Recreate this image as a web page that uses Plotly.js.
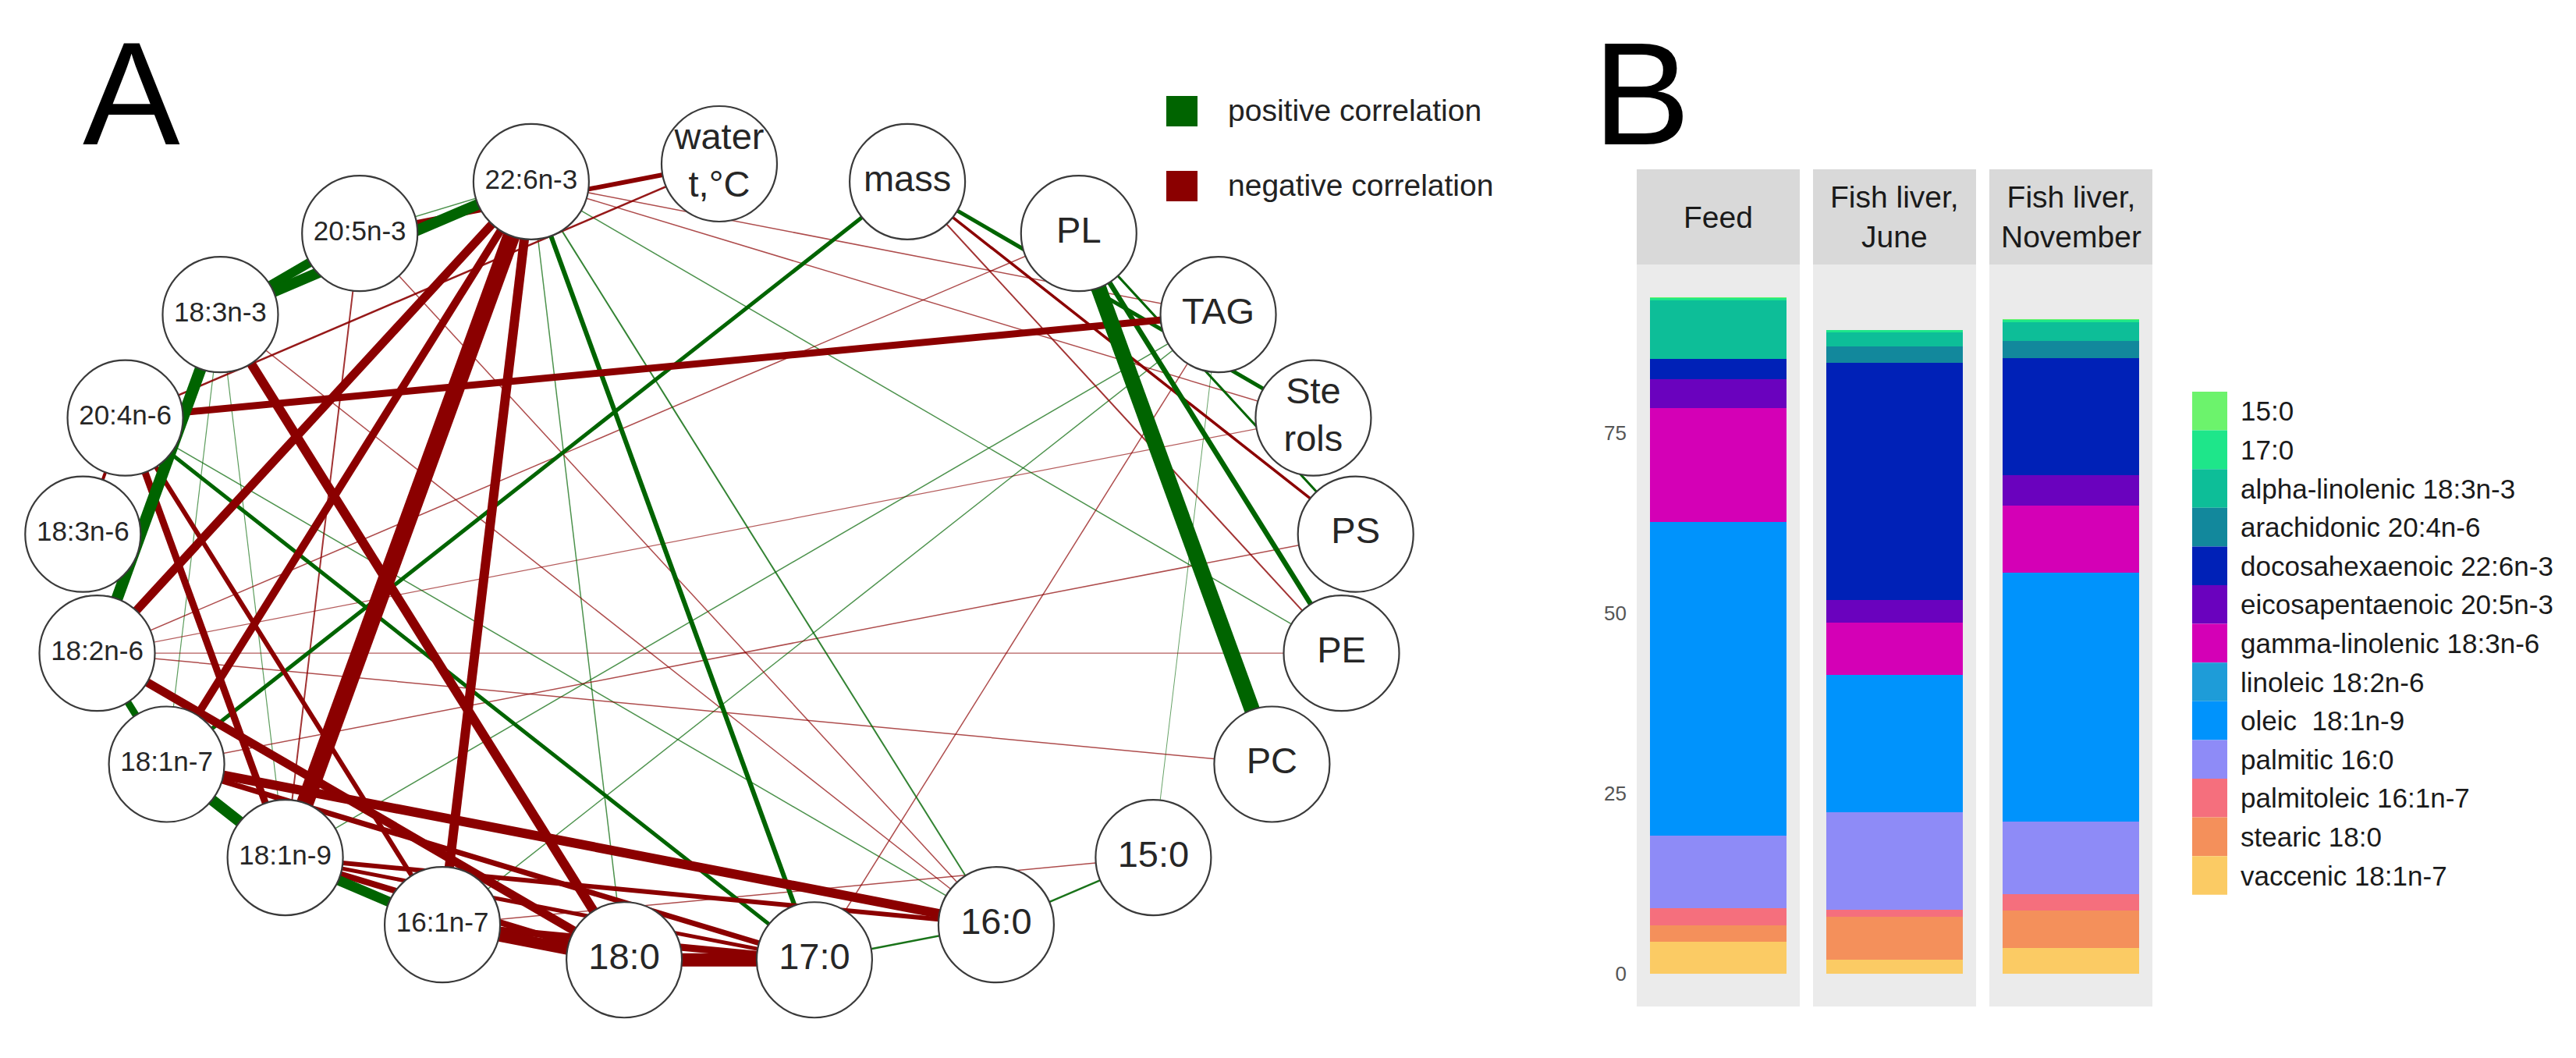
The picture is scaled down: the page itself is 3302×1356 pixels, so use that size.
<!DOCTYPE html>
<html>
<head>
<meta charset="utf-8">
<script src="https://cdn.plot.ly/plotly-3.0.1.min.js"></script>
<style>html,body{margin:0;padding:0;background:#fff;}#chart{width:3302px;height:1356px;}</style>
</head>
<body>
<div id="chart"></div>
<script>
// ---------------- DATA ----------------
// Panel A: correlation network
const nodeIds = ['water','mass','PL','TAG','Sterols','PS','PE','PC','15:0','16:0','17:0','18:0',
  '16:1n-7','18:1n-9','18:1n-7','18:2n-6','18:3n-6','20:4n-6','18:3n-3','20:5n-3','22:6n-3'];
const nodeLabels = ['water<br>t,°C','mass','PL','TAG','Ste<br>rols','PS','PE','PC','15:0','16:0','17:0','18:0',
  '16:1n-7','18:1n-9','18:1n-7','18:2n-6','18:3n-6','20:4n-6','18:3n-3','20:5n-3','22:6n-3'];

// edges: from, to, signed strength (positive = positive correlation)
const edgeFrom = ['PL','PL','mass','PL','22:6n-3','20:5n-3','18:3n-3','18:2n-6','18:1n-7','18:1n-9',
  'mass','20:4n-6','22:6n-3','16:0','15:0','22:6n-3','22:6n-3','22:6n-3','18:1n-9','16:1n-7',
  '15:0','20:5n-3','18:3n-3','18:3n-3','20:4n-6',
  '22:6n-3','22:6n-3','22:6n-3','22:6n-3','18:3n-3','18:2n-6','18:1n-7','18:1n-7','18:1n-9','18:1n-9',
  '18:1n-9','16:1n-7','18:0','16:1n-7','20:4n-6','20:4n-6','20:4n-6','20:5n-3','20:4n-6','mass',
  'mass','22:6n-3','22:6n-3','20:5n-3','18:1n-7','18:2n-6','18:2n-6','18:2n-6','16:1n-7','PL',
  '17:0','20:5n-3','18:3n-3','20:4n-6'];
const edgeTo = ['PC','PE','Sterols','PS','18:3n-3','18:3n-3','18:2n-6','18:1n-7','18:1n-9','16:1n-7',
  '18:1n-7','17:0','17:0','17:0','16:0','16:0','PE','18:0','TAG','TAG',
  'TAG','22:6n-3','18:1n-7','18:1n-9','16:0',
  '18:1n-9','16:1n-7','18:2n-6','18:1n-7','18:0','18:0','16:0','17:0','18:0','16:0',
  '17:0','18:0','17:0','17:0','TAG','18:1n-9','16:1n-7','water','water','PS',
  'PE','TAG','Sterols','18:1n-9','PS','PC','PE','Sterols','15:0','18:2n-6',
  'TAG','16:0','16:0','18:3n-6'];
const edgeStrength = [20,6.5,5,3,14,12,15,9,14,13,
  5,5,6,2.5,2.5,2,1.5,1.5,1.5,1.5,
  1,1.5,1.2,1.2,1.5,
  -22,-12,-11,-10,-12,-11,-12,-7,-8,-6,
  -5,-15,-17,-9,-9,-9,-6,-6,-2.5,-3.5,
  -2,-1.5,-1.5,-2,-1.5,-1.5,-1.2,-1.2,-1.5,-1.5,
  -1.5,-1.5,-1.5,-4];

// Panel B: fatty acid composition
const facets = ['Feed','Fish liver,<br>June','Fish liver,<br>November'];
const acids = ['15:0','17:0','alpha-linolenic 18:3n-3','arachidonic 20:4n-6','docosahexaenoic 22:6n-3',
  'eicosapentaenoic 20:5n-3','gamma-linolenic 18:3n-6','linoleic 18:2n-6','oleic  18:1n-9',
  'palmitic 16:0','palmitoleic 16:1n-7','stearic 18:0','vaccenic 18:1n-7'];
const acidColors = ['#6CF36C','#1EE68A','#0DBE98','#12889C','#0021B7','#6A02BE','#D400B6',
  '#1E9CD8','#0093FC','#8E8BF7','#F56F7D','#F4905B','#FBCB64'];
const feedValues     = [0.1, 0.3, 8.1, 0.0, 2.8, 4.0, 15.8, 0.0, 43.6, 10.1, 2.3, 2.3, 4.4];
const juneValues     = [0.1, 0.3, 1.9, 2.3, 32.9, 3.2, 7.2, 0.0, 19.1, 13.5, 0.95, 6.0, 1.9];
const novemberValues = [0.1, 0.3, 2.6, 2.4, 16.2, 4.3, 9.3, 0.0, 34.5, 10.1, 2.3, 5.2, 3.5];
const yTicks = [0, 25, 50, 75];

// ---------------- LAYOUT HELPERS ----------------
const W = 3302, H = 1356;
const px = x => x / W, py = y => 1 - y / H;
// circle layout (igraph-like) in pixel-space data coordinates
const CX = 922, CY = 723, RX = 818, RY = 513;
const N = nodeIds.length;
const nodeX = nodeIds.map((_, k) => CX + RX * Math.sin(2 * Math.PI * k / N));
const nodeY = nodeIds.map((_, k) => CY - RY * Math.cos(2 * Math.PI * k / N));
const idx = {}; nodeIds.forEach((n, i) => idx[n] = i);

const traces = [];
// edges, thin first
const order = edgeStrength.map((_, i) => i).sort((a, b) => Math.abs(edgeStrength[a]) - Math.abs(edgeStrength[b]));
order.forEach(i => {
  const s = edgeStrength[i], w = Math.abs(s);
  const a = Math.min(1, 0.4 + 0.2 * w);
  const col = s > 0 ? `rgba(0,100,0,${a})` : `rgba(139,0,0,${a})`;
  const f = idx[edgeFrom[i]], t = idx[edgeTo[i]];
  traces.push({type: 'scatter', mode: 'lines', xaxis: 'x', yaxis: 'y',
    x: [nodeX[f], nodeX[t]], y: [nodeY[f], nodeY[t]],
    line: {color: col, width: w}, hoverinfo: 'skip'});
});
// nodes
const regular = '"Liberation Sans",Arial,sans-serif';
const isLong = nodeIds.map(n => n.indexOf('n-') >= 0);
traces.push({type: 'scatter', mode: 'markers+text', xaxis: 'x', yaxis: 'y',
  x: nodeX, y: nodeY, text: nodeLabels, textposition: 'middle center',
  marker: {size: 148, color: '#ffffff', line: {color: '#3a3a3a', width: 2.2}},
  textfont: {size: isLong.map(l => l ? 35 : 47), family: regular, color: '#262626'},
  hoverinfo: 'skip', cliponaxis: false});

// Panel B bars
const facetValues = [feedValues, juneValues, novemberValues];
const facetAxes = ['x2', 'x3', 'x4'];
const stackOrder = acids.map((_, i) => acids.length - 1 - i); // bottom = last level
facetValues.forEach((vals, f) => {
  stackOrder.forEach(i => {
    traces.push({type: 'bar', xaxis: facetAxes[f], yaxis: 'y2', x: [facets[f]], y: [vals[i]],
      marker: {color: acidColors[i], line: {width: 0}}, width: 1, hoverinfo: 'skip', name: acids[i]});
  });
});

// shapes & annotations
const shapes = [], annotations = [];
// facet backgrounds & strips
const stripTop = 217, stripBot = 339;
facetAxes.forEach((ax, f) => {
  shapes.push({type: 'rect', xref: ax + ' domain', yref: 'paper', x0: 0, x1: 1, y0: py(1290), y1: py(stripBot),
    fillcolor: '#EBEBEB', line: {width: 0}, layer: 'below'});
  shapes.push({type: 'rect', xref: ax + ' domain', yref: 'paper', x0: 0, x1: 1, y0: py(stripBot), y1: py(stripTop),
    fillcolor: '#D9D9D9', line: {width: 0}, layer: 'below'});
  annotations.push({xref: ax + ' domain', yref: 'paper', x: 0.5, y: py((stripTop + stripBot) / 2),
    text: facets[f], showarrow: false, xanchor: 'center', yanchor: 'middle',
    font: {size: 39, color: '#1A1A1A', family: regular}});
});
// panel B legend
const keyTop = 502, keyH = 49.6;
acids.forEach((a, i) => {
  shapes.push({type: 'rect', xref: 'paper', yref: 'paper', x0: px(2810), x1: px(2855),
    y0: py(keyTop + (i + 1) * keyH), y1: py(keyTop + i * keyH), fillcolor: acidColors[i], line: {width: 0}});
  annotations.push({xref: 'paper', yref: 'paper', x: px(2870), y: py(keyTop + (i + 0.5) * keyH),
    text: a.replace('  ', '&nbsp; '), showarrow: false, xanchor: 'left', yanchor: 'middle',
    font: {size: 35, color: '#1A1A1A', family: regular}});
});
// panel A legend
const corrLegend = [['positive correlation', '#006400', 123], ['negative correlation', '#8B0000', 219]];
corrLegend.forEach(([t, c, y]) => {
  shapes.push({type: 'rect', xref: 'paper', yref: 'paper', x0: px(1495), x1: px(1535), y0: py(y + 39), y1: py(y),
    fillcolor: c, line: {width: 0}});
  annotations.push({xref: 'paper', yref: 'paper', x: px(1572), y: py(y + 18), text: t, showarrow: false,
    xanchor: 'left', yanchor: 'middle', font: {size: 39, color: '#222', family: regular}});
});
// panel letters
annotations.push({xref: 'paper', yref: 'paper', x: px(104), y: py(120), text: 'A', showarrow: false,
  xanchor: 'left', yanchor: 'middle', font: {size: 187, color: '#000', family: regular}});
annotations.push({xref: 'paper', yref: 'paper', x: px(2040), y: py(120), text: 'B', showarrow: false,
  xanchor: 'left', yanchor: 'middle', font: {size: 187, color: '#000', family: regular}});

const catAxis = dom => ({domain: dom, anchor: 'y2', type: 'category', range: [-0.6, 0.6], visible: false, fixedrange: true});
const layout = {
  width: W, height: H, margin: {l: 0, r: 0, t: 0, b: 0}, paper_bgcolor: '#ffffff', plot_bgcolor: 'rgba(0,0,0,0)',
  showlegend: false, barmode: 'stack', bargap: 0,
  xaxis: {domain: [0, 1950 / W], range: [0, 1950], visible: false, fixedrange: true},
  yaxis: {domain: [0, 1], range: [H, 0], visible: false, fixedrange: true},
  xaxis2: catAxis([px(2098), px(2307)]),
  xaxis3: catAxis([px(2324), px(2533)]),
  xaxis4: catAxis([px(2550), px(2759)]),
  yaxis2: {domain: [py(1290), py(stripBot)], anchor: 'x2', range: [-4.6, 98.4], tickvals: yTicks,
    ticks: '', showgrid: false, zeroline: false, showline: false, ticklabelstandoff: 12,
    tickfont: {size: 26, color: '#555555', family: regular}, fixedrange: true},
  shapes: shapes, annotations: annotations
};
Plotly.newPlot('chart', traces, layout, {staticPlot: true, displayModeBar: false});
</script>
</body>
</html>
